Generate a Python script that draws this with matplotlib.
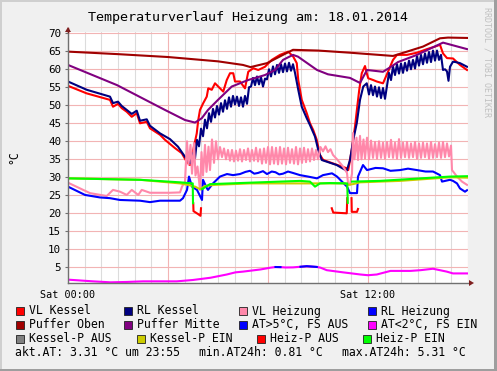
import numpy as np
import matplotlib
matplotlib.use("Agg")
import matplotlib.pyplot as plt
from matplotlib.patches import Rectangle, Polygon

plt.rcParams['font.family'] = ['DejaVu Sans Mono', 'DejaVu Sans']

W, H = 497, 371
title = "Temperaturverlauf Heizung am: 18.01.2014"
x_tick_pos = [0, 12]
x_tick_labels = ["Sat 00:00", "Sat 12:00"]
y_ticks = list(range(5, 71, 5))

# ---------------- data (hours since 00:00, °C) ----------------
vl_kessel_t = [0, 0.75, 1.68, 1.8, 2.0, 2.15, 2.35, 2.55, 2.75, 2.88, 3.15, 3.28, 3.68, 3.88, 4.28, 4.55,
               4.75, 4.88, 5.01, 5.15, 5.21, 5.28, 5.41, 5.55, 5.61, 5.75, 5.88, 6.01, 6.21, 6.35, 6.48,
               6.61, 6.68, 6.88, 7.08, 7.21, 7.41, 7.61, 7.88, 8.15, 8.48, 8.81, 9.01, 9.15, 9.21, 9.35,
               9.55, 9.68, 9.81, 9.95, 10.08, 10.21, 11.15, 11.21, 11.35, 11.48, 11.57, 11.65, 11.75,
               11.88, 11.95, 12.01, 12.21, 12.35, 12.6, 12.8, 13.0, 13.16, 13.56, 13.96, 14.36, 14.68,
               14.88, 15.0, 15.16, 15.4, 15.68, 15.96]
vl_kessel = [55.4, 53.3, 51.5, 49.6, 50.4, 49.2, 48.2, 46.8, 47.8, 45.0, 45.4, 43.6, 41.8, 40.4, 38.1, 36.7,
             34.3, 33.4, 37.6, 42.2, 45.9, 48.7, 50.6, 52.4, 54.7, 54.3, 56.1, 55.2, 53.8, 57.0, 58.9,
             58.9, 56.6, 56.6, 54.7, 59.3, 60.3, 59.8, 60.7, 62.6, 64.0, 64.9, 63.5, 61.7, 57.0, 51.5,
             47.8, 45.0, 43.1, 40.4, 36.2, 34.8, 32.5, 32.0, 37.6, 44.1, 49.6, 54.3, 58.9,
             60.9, 58.9, 57.5, 57.0, 56.6, 56.1, 59.3, 62.6, 64.0, 64.0, 64.6, 65.6, 66.3,
             66.8, 64.4, 63.1, 63.0, 61.2, 59.8]

rl_kessel_t = [0, 0.75, 1.68, 1.8, 2.0, 2.15, 2.55, 2.75, 2.88, 3.15, 3.28, 3.68, 4.08, 4.4, 4.68, 4.88,
               5.00, 5.08, 5.16, 5.24, 5.32, 5.40, 5.48, 5.56, 5.64, 5.72, 5.80, 5.88, 5.96, 6.04, 6.12,
               6.20, 6.28, 6.36, 6.44, 6.52, 6.60, 6.68, 6.76, 6.84, 6.92, 7.00, 7.08, 7.16, 7.24, 7.32,
               7.40, 7.48, 7.56, 7.64, 7.72, 7.80, 7.88, 7.96, 8.04, 8.12, 8.20, 8.28, 8.36, 8.44, 8.52,
               8.60, 8.68, 8.76, 8.84, 8.92, 9.00, 9.08, 9.21, 9.35, 9.55, 9.68, 9.88, 10.01, 10.15,
               10.75, 11.15, 11.28, 11.41, 11.55, 11.68, 11.81, 11.95,
               12.04, 12.12, 12.20, 12.28, 12.36, 12.44, 12.52, 12.60, 12.68, 12.76, 12.84, 12.92, 13.00,
               13.08, 13.16, 13.24, 13.32, 13.40, 13.48, 13.56, 13.64, 13.72, 13.80, 13.88, 13.96, 14.04,
               14.12, 14.20, 14.28, 14.36, 14.44, 14.52, 14.60, 14.68, 14.76, 14.84, 14.92, 15.00, 15.08,
               15.16, 15.22, 15.28, 15.40, 15.50, 15.68, 15.96]
rl_kessel = [56.6, 54.3, 52.4, 50.6, 51.0, 49.8, 47.6, 48.5, 45.7, 46.1, 44.3, 42.2, 40.6, 38.5, 35.7, 33.9,
             36.7, 35.2, 40.4, 38.6, 43.5, 41.4, 46.0, 43.6, 47.8, 45.4, 49.0, 46.6, 49.8, 47.4, 50.6,
             48.2, 51.4, 49.0, 52.2, 49.6, 52.6, 50.2, 52.4, 49.8, 52.2, 49.6, 52.6, 50.4, 55.0, 55.2,
             57.6, 55.6, 58.0, 55.8, 57.8, 55.2, 57.4, 57.2, 60.0, 58.0, 60.8, 58.6, 61.2, 59.0, 61.4,
             59.2, 61.6, 59.4, 61.8, 59.6, 61.4, 59.0, 54.3, 49.6, 46.4, 44.5, 41.3, 37.6, 34.8,
             33.4, 31.8, 34.8, 40.4, 45.0, 51.5, 55.2, 56.1,
             53.0, 55.6, 52.8, 55.2, 52.4, 55.0, 52.0, 54.8, 51.8, 55.4, 59.0, 57.0, 60.8,
             58.4, 61.4, 58.8, 61.6, 59.0, 61.8, 59.6, 62.4, 60.0, 62.6, 60.2, 63.6, 61.0,
             64.0, 61.4, 64.4, 61.8, 64.8, 62.0, 65.2, 62.4, 65.2, 62.6, 64.0, 59.8, 60.0,
             59.4, 56.8, 60.7, 62.1, 62.0, 61.7, 60.7]

vl_heizung_t = [0, 0.48, 0.88, 1.55, 1.8, 2.08, 2.35, 2.55, 2.81, 2.95, 3.28, 4.08, 4.48, 4.56, 4.68,
                4.76, 4.82, 4.90, 4.96, 5.04, 5.10, 5.18, 5.28, 5.34, 5.40, 5.48, 5.54, 5.62, 5.68, 5.76,
                5.84, 5.92, 6.00, 6.08, 6.16, 6.24, 6.32, 6.40, 6.48, 6.56, 6.64, 6.72, 6.80, 6.88, 6.96,
                7.04, 7.12, 7.20, 7.28, 7.36, 7.44, 7.52, 7.60, 7.68, 7.76, 7.84, 7.92, 8.00, 8.08, 8.16,
                8.24, 8.32, 8.40, 8.48, 8.56, 8.64, 8.72, 8.80, 8.88, 8.96, 9.04, 9.12, 9.20, 9.28, 9.36,
                9.44, 9.52, 9.60, 9.68, 9.76, 9.84, 9.92, 10.0, 10.1, 10.2, 10.3, 10.4, 10.5, 10.6, 10.76,
                11.0, 11.16, 11.2, 11.28, 11.36, 11.40, 11.46, 11.54, 11.60, 11.68, 11.74, 11.82, 11.88,
                11.96, 12.04, 12.12, 12.20, 12.28, 12.36, 12.44, 12.52, 12.60, 12.68, 12.76, 12.84, 12.92,
                13.00, 13.08, 13.16, 13.24, 13.32, 13.40, 13.48, 13.56, 13.64, 13.72, 13.80, 13.88, 13.96,
                14.04, 14.12, 14.20, 14.28, 14.36, 14.44, 14.52, 14.60, 14.68, 14.76, 14.84, 14.92, 15.00,
                15.08, 15.16, 15.24, 15.32, 15.36, 15.56, 15.76, 15.96]
vl_heizung = [28.5, 26.9, 25.6, 24.8, 26.5, 26.0, 25.1, 26.5, 25.1, 26.5, 25.7, 25.7, 25.8, 27.4, 28.8,
              40.0, 33.5, 39.0, 31.0, 39.5, 30.5, 33.0, 26.5, 37.0, 30.5, 39.0, 31.5, 38.5, 32.0, 40.5,
              34.0, 40.0, 35.0, 38.4, 35.6, 38.0, 35.0, 37.6, 34.6, 37.6, 34.4, 37.4, 34.6, 37.8, 34.4,
              37.6, 34.8, 38.0, 34.4, 37.6, 34.6, 38.2, 34.4, 37.8, 33.8, 38.0, 34.0, 38.4, 33.6, 38.4,
              33.8, 38.2, 33.6, 38.4, 33.8, 38.0, 33.6, 38.2, 34.0, 37.8, 33.8, 38.4, 33.6, 38.0, 34.0,
              38.2, 34.2, 37.8, 34.4, 38.0, 34.8, 37.6, 35.0, 38.4, 37.2, 38.6, 37.0, 37.8, 36.2, 35.0,
              33.0, 31.2, 28.4, 27.9, 31.0, 42.3, 35.0, 41.0, 34.8, 41.5, 35.0, 40.5, 35.2,
              41.0, 35.0, 40.2, 35.4, 39.8, 35.2, 40.0, 35.4, 39.6, 35.2, 39.8, 35.6, 40.4,
              35.4, 39.6, 35.2, 40.6, 35.4, 39.6, 35.6, 39.8, 35.4, 39.4, 35.6, 39.8, 35.2,
              39.4, 35.4, 39.6, 35.6, 39.4, 35.2, 39.8, 35.4, 39.2, 35.6, 39.6, 35.4, 39.8,
              35.6, 39.4, 35.8, 38.8, 32.0, 30.2, 28.8, 27.9]

rl_heizung_t = [0, 0.68, 1.28, 1.68, 2.08, 2.88, 3.28, 3.68, 4.48, 4.6, 4.76, 4.84, 4.96, 5.16, 5.36, 5.4,
                5.56, 5.6, 5.8, 6.08, 6.36, 6.6, 6.88, 7.1, 7.28, 7.45, 7.6, 7.8, 7.96, 8.15, 8.3, 8.45,
                8.6, 8.8, 9.0, 9.28, 9.6, 9.96, 10.2, 10.56, 10.76, 11.16, 11.28, 11.56, 11.6, 11.8, 11.96,
                12.3, 12.6, 12.9, 13.28, 13.6, 13.96, 14.3, 14.6, 14.88, 14.96, 15.28, 15.4, 15.56, 15.68,
                15.88, 15.96]
rl_heizung = [27.4, 25.1, 24.4, 24.2, 23.7, 23.5, 23.1, 23.5, 23.5, 24.2, 26.5, 30.2, 27.4, 26.5, 23.7, 29.3,
              26.9, 26.5, 28.3, 30.2, 30.9, 30.6, 30.9, 31.5, 31.8, 31.0, 31.2, 31.7, 30.9, 31.6, 31.4, 30.8,
              31.0, 31.6, 31.2, 30.6, 30.2, 29.7, 30.6, 31.1, 30.2, 27.4, 25.6, 25.6, 30.2, 33.4, 32.0,
              32.6, 32.5, 31.8, 32.0, 32.4, 32.0, 31.6, 31.6, 30.6, 28.8, 29.3, 29.0, 28.3, 26.9,
              26.0, 26.4]

puffer_oben_t = [0, 2.0, 4.0, 6.0, 7.0, 7.3, 7.96, 8.6, 9.0, 10.0, 11.28, 13.0, 13.56, 14.2, 14.88, 15.2, 15.96]
puffer_oben = [64.9, 64.2, 63.4, 62.2, 61.2, 60.6, 61.7, 64.0, 65.4, 65.2, 64.6, 63.7, 64.9, 66.3, 68.6, 68.8, 68.7]

puffer_mitte_t = [0, 1.96, 3.88, 4.68, 5.08, 5.35, 5.6, 6.0, 6.55, 7.2, 7.88, 8.28, 8.6, 9.0, 9.2, 9.96,
                  10.4, 11.28, 11.68, 11.96, 12.6, 12.9, 13.2, 13.96, 15.0, 15.96]
puffer_mitte = [61.2, 55.6, 48.7, 45.9, 45.2, 46.4, 48.7, 51.5, 55.2, 57.0, 58.4, 59.8, 62.6, 64.0, 63.5, 59.8,
                58.6, 57.6, 56.2, 59.8, 59.3, 60.6, 62.0, 64.0, 67.4, 65.6]

at_t = [0, 1.0, 1.7, 2.35, 3.0, 4.35, 5.0, 5.7, 6.35, 6.7, 7.0, 7.7, 8.1, 8.3, 8.5, 8.7, 9.0, 9.3, 9.55,
        9.95, 10.1, 10.35, 11.0, 11.7, 12.0, 12.35, 12.9, 13.7, 14.1, 14.6, 15.15, 15.4, 15.96]
at = [1.57, 1.1, 0.83, 0.93, 1.1, 1.1, 1.48, 2.1, 3.0, 3.6, 3.8, 4.4, 4.9, 5.08, 5.05, 4.95, 4.98, 5.15, 5.31,
      5.1, 4.9, 4.2, 3.6, 3.0, 2.8, 3.0, 4.0, 4.0, 4.2, 4.6, 3.8, 3.3, 3.3]
at_threshold = 5.0

kessel_p_ein_t = [0, 2.88, 4.48, 4.8, 5.08, 5.28, 5.48, 5.88, 7.28, 11.08, 11.2, 11.4, 11.68, 13.28, 15.28, 15.96]
kessel_p_ein = [29.7, 29.3, 28.3, 27.9, 27.4, 26.7, 27.6, 27.9, 28.3, 28.3, 27.9, 28.1, 28.6, 29.0, 30.0, 29.9]

heiz_p_ein_t = [0, 2.88, 4.48, 4.99, 5.0, 5.01, 5.36, 5.68, 6.48, 7.68, 9.28, 9.68, 9.88, 10.08, 10.48,
                11.17, 11.19, 11.2, 11.36, 12.48, 15.28, 15.96]
heiz_p_ein = [29.7, 29.3, 28.6, 28.3, 22.8, np.nan, 26.7, 28.1, 28.3, 28.6, 29.0, 28.8, 27.4, 28.3, 28.4,
              28.3, 22.9, np.nan, 28.8, 29.0, 30.2, 30.3]

heiz_p_aus_t = [5.01, 5.02, 5.2, 5.3, 5.32, 5.33, 10.55, 10.61, 11.15, 11.17, 11.2, 11.34, 11.35, 11.56, 11.6]
heiz_p_aus = [22.8, 20.6, 19.8, 19.3, 21.4, np.nan, 21.4, 20.2, 20.0, 24.2, np.nan, 24.2, 20.4, 20.4, 21.2]

legend_rows = [
    [("VL Kessel", "#FF0000"), ("RL Kessel", "#000080"), ("VL Heizung", "#FF88AA"), ("RL Heizung", "#0000FF")],
    [("Puffer Oben", "#A00000"), ("Puffer Mitte", "#800080"), ("AT>5°C, FS AUS", "#0000FF"), ("AT<2°C, FS EIN", "#FF00FF")],
    [("Kessel-P AUS", "#808080"), ("Kessel-P EIN", "#CCCC00"), ("Heiz-P AUS", "#FF0000"), ("Heiz-P EIN", "#00FF00")],
]
stats_texts = ["akt.AT: 3.31 °C um 23:55", "min.AT24h: 0.81 °C", "max.AT24h: 5.31 °C"]
watermark = "RRDTOOL / TOBI OETIKER"

# ---------------- figure ----------------
fig = plt.figure(figsize=(W / 100, H / 100), dpi=100, facecolor="#F0F0F0")

def fx(px):
    return px / W

def fy(py):
    return 1 - py / H

# frame
fig.add_artist(Rectangle((0, fy(2)), 1, 2 / H, transform=fig.transFigure, facecolor="#CFCFCF", edgecolor="none"))
fig.add_artist(Rectangle((0, 0), 2 / W, 1, transform=fig.transFigure, facecolor="#CFCFCF", edgecolor="none"))
fig.add_artist(Rectangle((0, 0), 1, 2 / H, transform=fig.transFigure, facecolor="#9E9E9E", edgecolor="none"))
fig.add_artist(Rectangle((fx(494), 0), 3 / W, 1, transform=fig.transFigure, facecolor="#9E9E9E", edgecolor="none"))

L, R, T, B = 68, 468, 32, 283
ax = fig.add_axes([fx(L), fy(B), (R - L) / W, (B - T) / H])
ax.set_facecolor("white")
ax.set_xlim(0, 16)
ax.set_ylim(0.64, 70.35)

# grid
for m in range(0, 16 * 60 + 1, 40):
    h = m / 60
    if m % 240 == 0:
        continue
    ax.axvline(h, color="#DCDCDC", lw=0.8, zorder=0)
for h in range(0, 17, 4):
    ax.axvline(h, color="#F2B4B4", lw=0.8, zorder=0.5)
for v in y_ticks:
    ax.axhline(v, color="#F2B4B4", lw=0.8, zorder=0.5)

lw = 1.5
ax.plot(vl_kessel_t, vl_kessel, color="#FF0000", lw=lw, zorder=2)
ax.plot(rl_kessel_t, rl_kessel, color="#000080", lw=lw, zorder=3)
ax.plot(vl_heizung_t, vl_heizung, color="#FF88AA", lw=lw, zorder=4)
ax.plot(rl_heizung_t, rl_heizung, color="#0000FF", lw=lw, zorder=5)
ax.plot(puffer_oben_t, puffer_oben, color="#A00000", lw=lw, zorder=6)
ax.plot(puffer_mitte_t, puffer_mitte, color="#800080", lw=lw, zorder=7)
at_arr = np.array(at)
ax.plot(at_t, at_arr, color="#FF00FF", lw=lw, zorder=8)
ax.plot(at_t, np.where(at_arr > at_threshold, at_arr, np.nan), color="#0000FF", lw=lw, zorder=8.5)
ax.plot(kessel_p_ein_t, kessel_p_ein, color="#CCCC00", lw=lw, zorder=9)
ax.plot(heiz_p_aus_t, heiz_p_aus, color="#FF0000", lw=lw, zorder=10)
ax.plot(heiz_p_ein_t, heiz_p_ein, color="#00FF00", lw=lw, zorder=11)

for s in ["top", "right"]:
    ax.spines[s].set_visible(False)
for s in ["left", "bottom"]:
    ax.spines[s].set_color("#707070")
    ax.spines[s].set_linewidth(1.0)
    ax.spines[s].set_zorder(12)

ax.set_yticks(y_ticks)
ax.set_yticklabels([str(v) for v in y_ticks])
ax.set_xticks(x_tick_pos)
ax.set_xticklabels(x_tick_labels)
ax.tick_params(axis="y", length=2, width=0.8, color="#707070", pad=3, labelsize=7.8, labelcolor="black")
ax.tick_params(axis="x", length=0, pad=5, labelsize=7.3, labelcolor="black")

# arrows
fig.add_artist(Polygon([(fx(469), fy(280)), (fx(469), fy(286)), (fx(474), fy(283))], closed=True,
                       transform=fig.transFigure, facecolor="#7F1F1F", edgecolor="none"))
fig.add_artist(Polygon([(fx(65), fy(32)), (fx(71), fy(32)), (fx(68), fy(27))], closed=True,
                       transform=fig.transFigure, facecolor="#7F1F1F", edgecolor="none"))
fig.add_artist(plt.Line2D([fx(68), fx(68)], [fy(32), fy(28)], transform=fig.transFigure, color="#7F1F1F", lw=1))

fig.text(fx(248), fy(17), title, ha="center", va="center", fontsize=9.6, color="black")
fig.text(fx(14), fy(157), "°C", ha="center", va="center", rotation=90, fontsize=8.3)
fig.text(fx(487), fy(7), watermark, ha="center", va="top", rotation=-90, fontsize=6, color="#C0C0C0")

box_x = [[16, 124, 239, 368], [16, 124, 239, 368], [16, 137, 257, 363]]
row_y = [311, 325, 339]
for r, row in enumerate(legend_rows):
    for c, (lab, col) in enumerate(row):
        bx = box_x[r][c]
        by = row_y[r]
        fig.add_artist(Rectangle((fx(bx), fy(by + 4)), 8 / W, 8 / H, transform=fig.transFigure,
                                 facecolor=col, edgecolor="#202020", lw=0.6))
        fig.text(fx(bx + 13), fy(by), lab, ha="left", va="center", fontsize=8.3)
for x0, s in zip([15, 199, 342], stats_texts):
    fig.text(fx(x0), fy(353), s, ha="left", va="center", fontsize=8.3)

fig.savefig("out.png", dpi=100, facecolor=fig.get_facecolor())
